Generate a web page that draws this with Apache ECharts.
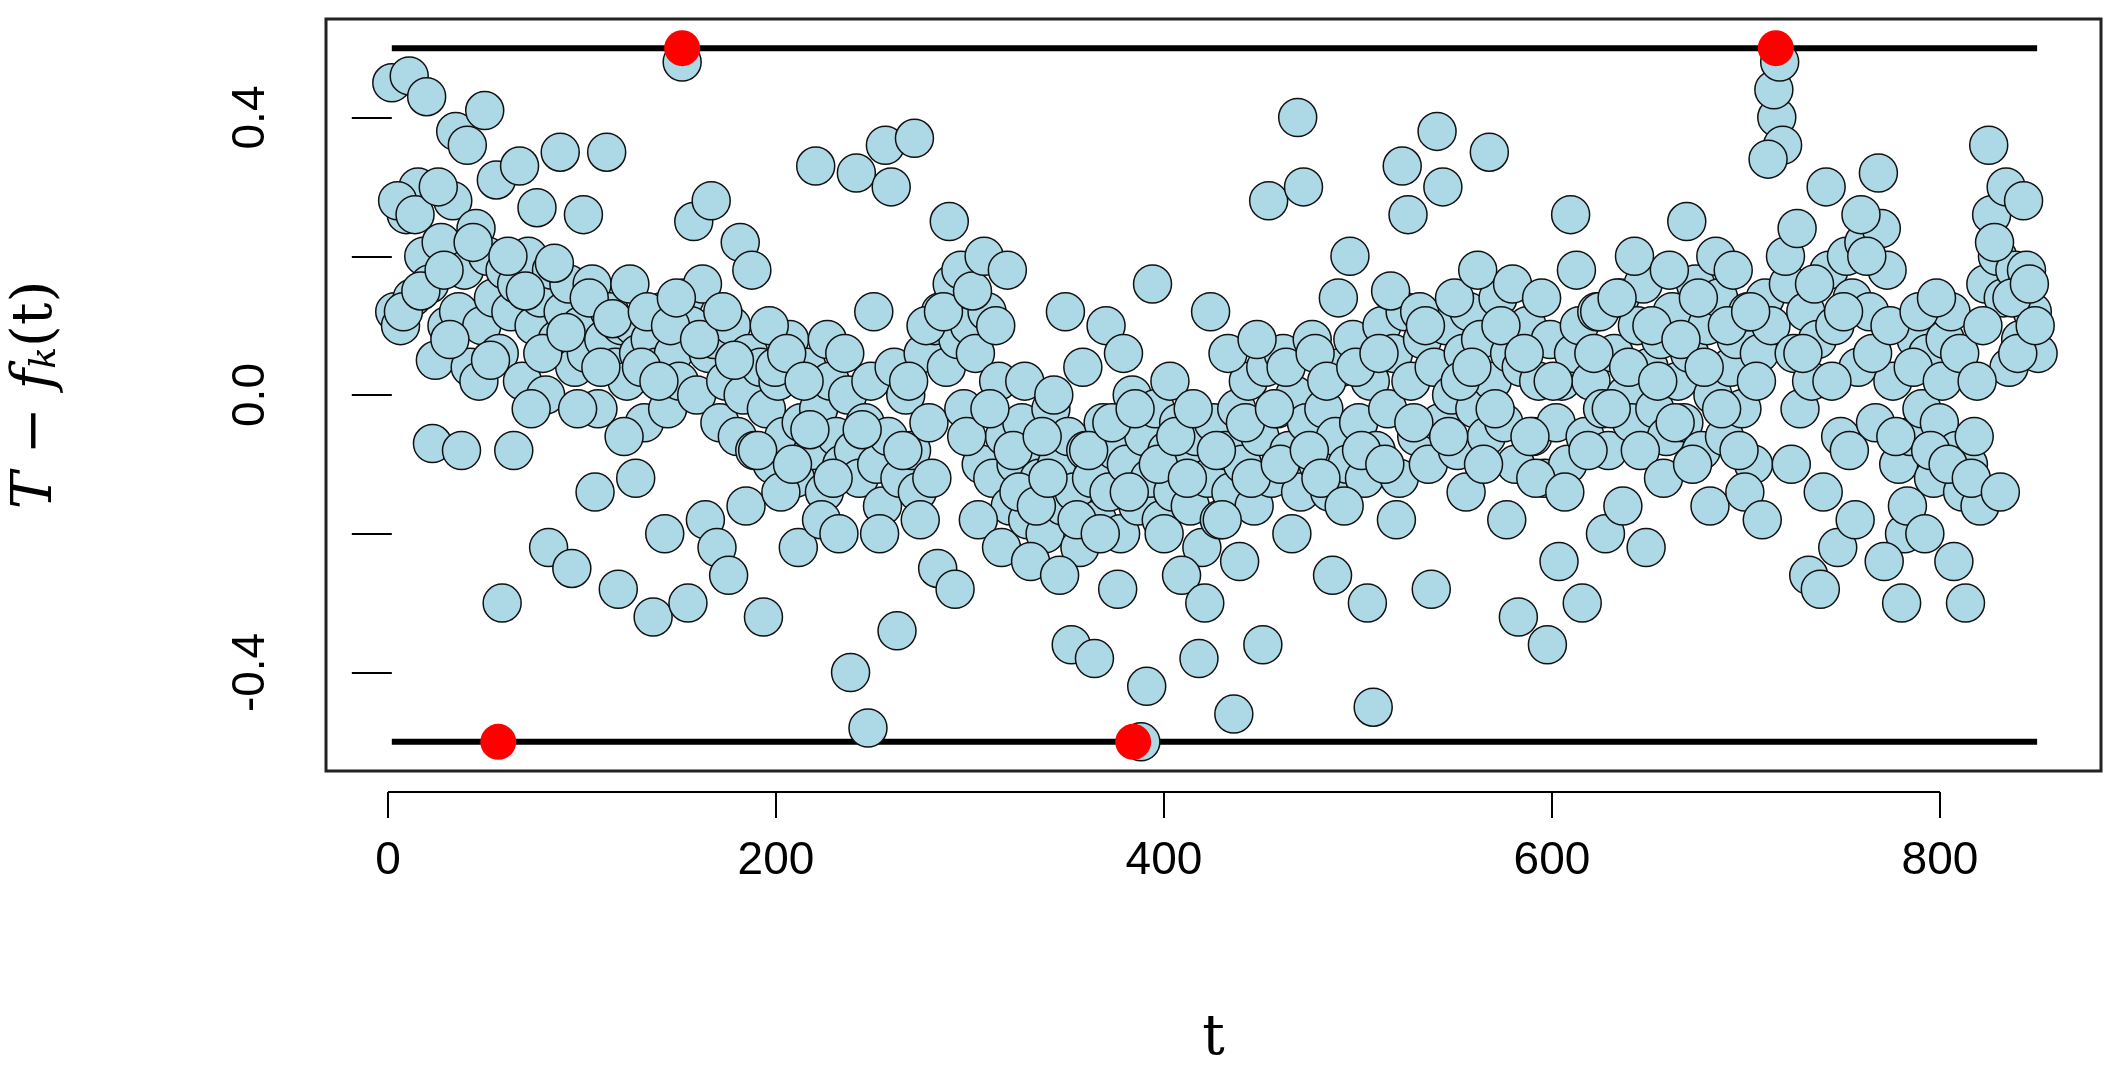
<!DOCTYPE html>
<html><head><meta charset="utf-8">
<script src="https://cdn.jsdelivr.net/npm/echarts@6/dist/echarts.min.js"></script>
<style>html,body{margin:0;padding:0;background:#fff}#c{width:2128px;height:1079px}</style>
</head><body><div id="c"></div>
<script>
const tStep = 3;
const residuals = [
0.45,0.28,0.12,0.46,0.26,0.15,0.43,-0.07,0.30,0.18,0.08,0.38,-0.08,0.36,0.22,0.02,0.41,0.05,0.31,-0.30,
0.20,-0.08,0.33,0.15,-0.02,0.27,0.06,-0.22,0.19,0.35,0.09,-0.25,-0.02,0.26,0.14,-0.14,0.04,0.35,0.11,-0.28,
-0.06,0.16,-0.12,0.04,0.12,-0.32,0.02,-0.20,0.10,0.14,0.48,-0.30,0.25,0.08,-0.18,0.28,-0.22,0.12,-0.26,0.05,
0.22,-0.16,0.18,-0.08,-0.32,0.10,0.04,-0.14,0.06,-0.10,-0.22,0.02,-0.05,0.33,-0.18,0.08,-0.12,-0.20,0.06,-0.40,
0.32,-0.05,-0.48,0.12,-0.20,0.36,0.30,-0.34,-0.08,0.02,0.37,-0.18,0.10,-0.12,-0.25,0.12,0.25,-0.28,0.18,-0.06,
0.15,-0.18,0.20,-0.02,0.10,-0.22,0.18,-0.08,-0.14,0.02,-0.24,-0.16,-0.06,-0.12,0.00,-0.26,0.12,-0.36,-0.18,0.04,
-0.08,-0.38,-0.20,0.10,-0.04,-0.28,0.06,-0.14,-0.02,-0.50,-0.42,0.16,-0.10,-0.20,0.02,-0.06,-0.26,-0.12,-0.02,-0.38,
-0.30,0.12,-0.08,-0.18,0.06,-0.46,-0.24,-0.04,-0.12,0.08,-0.36,0.28,-0.02,-0.10,0.04,-0.20,0.40,0.30,-0.08,0.06,
-0.12,0.02,-0.26,0.14,-0.16,0.20,0.04,-0.08,-0.30,-0.45,0.06,-0.10,0.15,-0.18,0.33,0.26,-0.04,0.12,0.10,-0.28,
0.38,0.30,-0.06,0.14,0.02,-0.14,0.04,0.18,-0.10,0.35,-0.02,0.10,-0.18,0.16,-0.32,0.06,-0.06,-0.12,0.14,-0.36,
0.02,-0.24,-0.14,0.26,0.18,-0.30,-0.08,0.06,0.12,-0.20,-0.02,0.14,-0.16,0.04,0.20,-0.08,-0.22,0.10,0.02,-0.12,
0.18,-0.04,0.08,0.25,-0.10,0.14,0.04,-0.16,0.20,-0.02,0.10,0.18,-0.08,-0.14,0.12,0.02,-0.18,0.34,0.44,0.48,
0.20,-0.10,0.24,0.06,-0.26,0.16,-0.28,0.30,0.02,-0.22,0.12,-0.08,-0.18,0.26,0.20,0.06,0.32,-0.24,0.10,-0.06,
-0.30,-0.16,0.04,0.12,-0.20,-0.08,0.14,0.02,-0.10,-0.24,0.06,-0.30,-0.12,0.02,0.10,0.36,0.22,-0.14,0.30,0.14,
0.06,0.28,0.16,0.10
];
const tOffsetB = 1.5;
const residualsB = [
0.12,0.10,0.26,0.14,0.30,0.20,0.16,0.05,0.22,0.10,0.28,0.12,0.18,0.04,0.24,0.10,0.20,0.14,0.06,0.18,
0.12,0.16,0.02,0.20,0.10,0.14,0.00,0.18,0.08,0.12,0.16,0.04,0.10,0.06,0.16,-0.02,0.08,0.12,0.04,0.10,
0.02,0.10,0.06,-0.04,0.08,0.04,0.12,-0.02,0.06,0.02,0.14,0.10,0.00,0.16,0.06,0.08,-0.04,0.02,0.10,-0.06,
0.00,0.06,-0.08,0.04,-0.02,-0.10,0.02,-0.06,0.08,-0.12,-0.04,0.04,-0.08,-0.02,-0.14,0.02,-0.06,-0.10,0.00,-0.08,
-0.12,-0.04,0.02,-0.10,-0.16,-0.06,0.04,-0.12,0.00,-0.08,-0.14,0.06,-0.04,0.10,0.12,0.04,0.16,0.08,-0.02,0.10,
0.06,-0.10,0.12,-0.12,0.02,-0.06,-0.16,-0.10,-0.04,-0.18,-0.08,-0.12,-0.20,-0.02,-0.10,-0.16,-0.06,-0.14,-0.22,-0.08,
-0.12,-0.18,-0.04,-0.14,-0.08,-0.20,-0.10,0.00,-0.16,-0.06,-0.12,-0.02,-0.18,-0.08,-0.14,-0.04,-0.10,-0.16,-0.06,-0.22,
-0.12,-0.04,-0.18,-0.08,-0.14,-0.02,-0.10,0.02,-0.16,-0.06,0.04,-0.12,-0.02,0.06,-0.08,0.00,-0.14,-0.04,0.08,-0.10,
-0.02,-0.14,-0.06,0.04,-0.10,0.08,-0.04,-0.12,0.02,-0.08,0.10,-0.02,0.06,-0.12,0.12,0.02,-0.06,0.08,-0.10,0.04,
-0.04,0.10,0.00,-0.08,0.06,0.12,-0.02,0.08,-0.06,0.02,0.14,-0.04,0.06,-0.10,0.04,0.10,-0.06,0.02,-0.12,0.08,
-0.04,0.02,-0.10,0.06,0.10,-0.06,0.02,0.12,-0.02,-0.08,0.06,0.14,0.00,-0.04,0.10,0.16,0.04,-0.02,0.08,-0.06,
0.12,0.02,-0.04,0.06,0.16,-0.08,0.10,0.00,0.14,-0.06,0.04,0.08,-0.02,0.12,-0.10,0.06,0.14,0.10,0.40,0.36,
0.16,0.06,-0.02,0.12,0.02,0.08,-0.14,0.18,0.10,-0.06,0.20,0.14,0.04,0.22,0.12,-0.04,0.24,0.18,0.02,-0.10,
-0.20,-0.06,0.08,-0.02,0.06,-0.12,-0.04,0.08,0.12,-0.08,-0.14,-0.10,-0.06,-0.16,0.16,0.26,0.20,0.14,0.04,0.18,
0.08,0.18,0.12,0.06
];
const extremeT = [55, 150, 383, 715];
const extremeY = [-0.5, 0.5, -0.5, 0.5];
const boundY = [0.5, -0.5];
const boundT = [0, 850];
const xTicks = [0, 200, 400, 600, 800];
const yTicks = [-0.4, -0.2, 0, 0.2, 0.4];
const yLabels = [-0.4, 0, 0.4];

const pts = residuals.map((y, i) => [i * tStep, y]);
const ptsB = residualsB.map((y, i) => [i * tStep + tOffsetB, y]);
const dotStyle = {color:'#add8e6', borderColor:'#111', borderWidth:1.5, opacity:1};
const series = [];
boundY.forEach(b => series.push({type:'line', xAxisIndex:0, yAxisIndex:0, data: boundT.map(t => [t, b]), symbol:'none',
  lineStyle:{color:'#000', width:6}, z:1, silent:true}));
series.push({type:'scatter', xAxisIndex:0, yAxisIndex:0, data: ptsB, symbolSize:38, itemStyle:dotStyle, z:2});
series.push({type:'scatter', xAxisIndex:0, yAxisIndex:0, data: pts, symbolSize:38, itemStyle:dotStyle, z:2});
series.push({type:'scatter', xAxisIndex:0, yAxisIndex:0, data: extremeT.map((t,i)=>[t, extremeY[i]]), symbolSize:36,
  itemStyle:{color:'#ff0000', opacity:1}, z:3});
series.push({type:'line', xAxisIndex:1, yAxisIndex:1, data: [[xTicks[0],0],[xTicks[xTicks.length-1],0]], symbol:'none',
  lineStyle:{color:'#000', width:2}, silent:true});

const chart = echarts.init(document.getElementById('c'));
chart.setOption({
  animation:false,
  grid:[
    {left:322, right:27, top:19, bottom:308, show:true, borderColor:'#222', borderWidth:3, backgroundColor:'transparent'},
    {left:322, right:27, top:791, height:1}
  ],
  xAxis:[
    {gridIndex:0, type:'value', min:-34, max:883, axisLine:{show:false}, axisTick:{show:false}, axisLabel:{show:false}, splitLine:{show:false},
     name:'t', nameLocation:'middle', nameGap:240, nameTextStyle:{fontFamily:'DejaVu Serif', fontSize:56, color:'#000'}},
    {gridIndex:1, type:'value', min:-34, max:883, axisLine:{show:false}, splitLine:{show:false},
     axisTick:{show:true, length:26, inside:false, customValues:xTicks, lineStyle:{color:'#000', width:2}},
     axisLabel:{customValues:xTicks, fontFamily:'Liberation Sans', fontSize:46, color:'#000', margin:46}}
  ],
  yAxis:[
    {gridIndex:0, type:'value', min:-0.542, max:0.542, axisLine:{show:false}, splitLine:{show:false},
     axisTick:{show:true, length:40, customValues:yTicks, lineStyle:{color:'#000', width:2}},
     axisLabel:{customValues:yLabels, rotate:90, fontFamily:'Liberation Sans', fontSize:46, color:'#000', margin:52,
       formatter: v => Math.abs(v) < 1e-9 ? '0.0' : v.toFixed(1)},
     name:'{i|T} − {i|f}{s|k}(t)', nameLocation:'middle', nameGap:262, nameRotate:90,
     nameTextStyle:{fontFamily:'DejaVu Serif', fontSize:56, color:'#000',
       rich:{i:{fontFamily:'DejaVu Serif', fontStyle:'italic', fontSize:56}, s:{fontFamily:'DejaVu Serif', fontStyle:'italic', fontSize:36, verticalAlign:'bottom', padding:[16,0,0,0]}}}},
    {gridIndex:1, type:'value', min:0, max:1, show:false}
  ],
  series
});
</script></body></html>
